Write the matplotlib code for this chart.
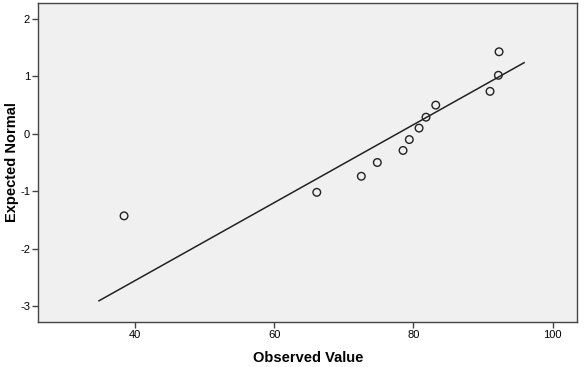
import matplotlib
matplotlib.use("Agg")
import matplotlib.pyplot as plt

observed = [38.4, 66.1, 72.5, 74.8, 78.5, 79.4, 80.8, 81.8, 83.2, 91.0, 92.2, 92.3]
expected = [-1.43, -1.02, -0.74, -0.50, -0.29, -0.10, 0.10, 0.29, 0.50, 0.74, 1.02, 1.43]
# reference line endpoints
line_x = [34.8, 95.9]
line_y = [-2.91, 1.24]

xticks = [40, 60, 80, 100]
yticks = [-3, -2, -1, 0, 1, 2]

plt.rcParams['font.family'] = ['Liberation Sans', 'DejaVu Sans']
plt.rcParams['axes.unicode_minus'] = False

fig = plt.figure(figsize=(5.85, 3.67), dpi=100)
ax = fig.add_axes([0.0658, 0.1226, 0.9205, 0.8692])
ax.set_facecolor('#f0f0f0')

ax.plot(line_x, line_y, color='#222222', lw=1.1)
ax.scatter(observed, expected, s=30, facecolors='none', edgecolors='#222222', linewidths=1.0, zorder=3)

ax.set_xlim(26.1, 103.5)
ax.set_ylim(-3.28, 2.28)
ax.set_xticks(xticks)
ax.set_yticks(yticks)
ax.tick_params(labelsize=8, length=4, width=1, color='#444444', pad=2)
for s in ax.spines.values():
    s.set_color('#444444')
    s.set_linewidth(1)

ax.set_xlabel('Observed Value', fontsize=10.5, fontweight='bold', labelpad=8)
ax.set_ylabel('Expected Normal', fontsize=10.5, fontweight='bold', va='center')
ax.yaxis.set_label_coords(-0.049, 0.5)

plt.savefig('out.png', dpi=100)
